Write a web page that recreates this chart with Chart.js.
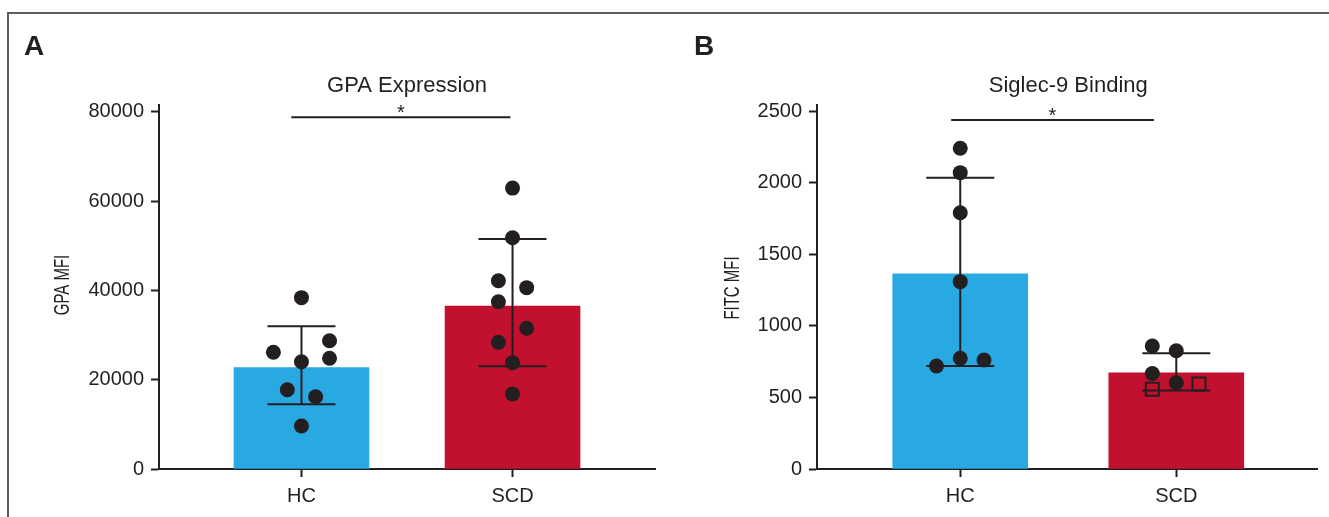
<!DOCTYPE html>
<html>
<head>
<meta charset="utf-8">
<script src="https://cdn.jsdelivr.net/npm/chart.js@4.4.1/dist/chart.umd.min.js"></script>
<style>
  html, body { margin: 0; padding: 0; background: #fff; }
  #wrap { position: relative; width: 1329px; height: 517px; overflow: hidden; }
  #frame { position: absolute; left: 7px; top: 12px; width: 1340px; height: 520px;
           border-top: 2px solid #5d5d5d; border-left: 2px solid #5d5d5d; }
  canvas { position: absolute; top: 0; }
  #chartA { left: 0; }
  #chartB { left: 665px; }
</style>
</head>
<body>
<div id="wrap">
  <div id="frame"></div>
  <canvas id="chartA" width="665" height="517"></canvas>
  <canvas id="chartB" width="664" height="517"></canvas>
</div>
<script>
const categories = ["HC", "SCD"];

// A - GPA Expression
const gpaTicks = [0, 20000, 40000, 60000, 80000];
const gpaMeans = [22690, 36500];
const gpaErrLow = [14490, 23000];
const gpaErrHigh = [31950, 51500];
const gpaHC = [38360, 26130, 28730, 24025, 24790, 17760, 16190, 9630];
const gpaHCJitter = [0, -0.133, 0.133, 0, 0.133, -0.067, 0.067, 0];
const gpaSCD = [62900, 51790, 42160, 40600, 37460, 31500, 28360, 23800, 16790];
const gpaSCDJitter = [0, 0, -0.067, 0.067, -0.067, 0.067, -0.067, 0, 0];
const gpaSigY = 78780;

// B - Siglec-9 Binding
const siglecTicks = [0, 500, 1000, 1500, 2000, 2500];
const siglecMeans = [1364, 673];
const siglecErrLow = [720, 548];
const siglecErrHigh = [2037, 809];
const siglecHC = [2243, 2072, 1792, 1310, 774, 762, 720];
const siglecHCJitter = [0, 0, 0, 0, 0, 0.11, -0.11];
const siglecSCDDots = [860, 827, 668, 603];
const siglecSCDDotsJitter = [-0.111, 0, -0.111, 0];
const siglecSCDSquares = [557, 594];
const siglecSCDSquaresJitter = [-0.111, 0.105];
const siglecSigY = 2440;

const ink = "#231f20";
const blue = "#29a9e1";
const red = "#c1112f";
const family = "'Liberation Sans', Arial, sans-serif";

Chart.defaults.font.family = family;
Chart.defaults.color = ink;

// x = numero del gruppo + jitter
function points(values, jitter, group) {
  return values.map((v, i) => ({ x: group + jitter[i], y: v }));
}

// barre di errore (media +/- SD) disegnate subito dopo le colonne
const errorBars = {
  id: "errorBars",
  afterDatasetDraw(chart, args, opts) {
    if (args.meta.type !== "bar") return;
    const { ctx } = chart;
    const x = chart.scales.x, y = chart.scales.y;
    ctx.save();
    ctx.strokeStyle = ink;
    ctx.lineWidth = 2;
    opts.low.forEach((lo, i) => {
      const px = x.getPixelForValue(i + 1);
      const top = y.getPixelForValue(opts.high[i]);
      const bot = y.getPixelForValue(lo);
      ctx.beginPath();
      ctx.moveTo(px, top); ctx.lineTo(px, bot);
      ctx.moveTo(px - opts.cap, top); ctx.lineTo(px + opts.cap, top);
      ctx.moveTo(px - opts.cap, bot); ctx.lineTo(px + opts.cap, bot);
      ctx.stroke();
    });
    ctx.restore();
  }
};

// lettera del pannello, titolo, linea di significativita, titolo asse y
const deco = {
  id: "deco",
  afterDraw(chart, args, o) {
    const { ctx } = chart;
    const x = chart.scales.x, y = chart.scales.y;
    ctx.save();
    ctx.fillStyle = ink;
    ctx.strokeStyle = ink;

    ctx.font = "bold 28px " + family;
    ctx.textAlign = "left";
    ctx.textBaseline = "alphabetic";
    ctx.fillText(o.letter, o.letterX, 55);

    ctx.font = "22px " + family;
    ctx.textAlign = "center";
    ctx.fillText(o.title, x.getPixelForValue(1.5), 91.5);

    const sy = y.getPixelForValue(o.sigY);
    const x1 = x.getPixelForValue(o.sigFrom);
    const x2 = x.getPixelForValue(o.sigTo);
    ctx.lineWidth = 2;
    ctx.beginPath();
    ctx.moveTo(x1, sy); ctx.lineTo(x2, sy);
    ctx.stroke();
    ctx.font = "20px " + family;
    ctx.fillText("*", (x1 + x2) / 2, sy + 2);

    ctx.translate(o.yTitleX, o.yTitleY);
    ctx.rotate(-Math.PI / 2);
    ctx.scale(0.68, 1);
    ctx.font = "22px " + family;
    ctx.textBaseline = "middle";
    ctx.fillText(o.yTitle, 0, 0);
    ctx.restore();
  }
};

function axisLook() {
  return {
    offset: false,
    grid: { offset: false, drawOnChartArea: false, tickLength: 8, tickWidth: 2, tickColor: ink },
    border: { display: true, color: ink, width: 2 }
  };
}

function makeChart(id, p) {
  return new Chart(document.getElementById(id), {
    type: "bar",
    data: {
      datasets: p.scatter.concat([{
        type: "bar",
        data: p.means.map((m, i) => ({ x: i + 1, y: m })),
        backgroundColor: [blue, red],
        barThickness: 135,
        order: 2
      }])
    },
    options: {
      responsive: false,
      devicePixelRatio: 1,
      animation: false,
      events: [],
      layout: { padding: { left: 0, top: 105, right: p.padRight, bottom: 8 } },
      plugins: {
        legend: { display: false },
        tooltip: { enabled: false },
        errorBars: { low: p.errLow, high: p.errHigh, cap: 34 },
        deco: p.deco
      },
      scales: {
        x: Object.assign({
          type: "linear",
          min: p.xMin,
          max: p.xMax,
          z: 1,
          afterBuildTicks: s => { s.ticks = categories.map((c, i) => ({ value: i + 1 })); },
          afterFit: s => { s.height = 40; },
          ticks: {
            callback: v => categories[v - 1],
            font: { size: 20 },
            color: ink,
            padding: 7,
            autoSkip: false,
            maxRotation: 0
          }
        }, axisLook()),
        y: Object.assign({
          type: "linear",
          min: 0,
          max: p.yMax,
          afterBuildTicks: s => { s.ticks = p.ticks.map(v => ({ value: v })); },
          afterFit: s => { s.width = p.yWidth; },
          ticks: { callback: v => String(v), font: { size: 20 }, color: ink, padding: 7 }
        }, axisLook())
      }
    },
    plugins: [errorBars, deco]
  });
}

const dot = { type: "scatter", pointRadius: 7.5, pointBackgroundColor: ink, pointBorderWidth: 0, order: 0 };

makeChart("chartA", {
  means: gpaMeans, errLow: gpaErrLow, errHigh: gpaErrHigh, ticks: gpaTicks,
  yMax: 81500, yWidth: 159, padRight: 10, xMin: 0.325, xMax: 2.675,
  scatter: [
    Object.assign({ data: points(gpaHC, gpaHCJitter, 1) }, dot),
    Object.assign({ data: points(gpaSCD, gpaSCDJitter, 2) }, dot)
  ],
  deco: {
    letter: "A", letterX: 24, title: "GPA Expression", yTitle: "GPA MFI",
    yTitleX: 63, yTitleY: 285, sigY: gpaSigY, sigFrom: 0.952, sigTo: 1.99
  }
});

makeChart("chartB", {
  means: siglecMeans, errLow: siglecErrLow, errHigh: siglecErrHigh, ticks: siglecTicks,
  yMax: 2545, yWidth: 152, padRight: 6, xMin: 0.337, xMax: 2.655,
  scatter: [
    Object.assign({ data: points(siglecHC, siglecHCJitter, 1) }, dot),
    Object.assign({ data: points(siglecSCDDots, siglecSCDDotsJitter, 2) }, dot),
    {
      type: "scatter",
      data: points(siglecSCDSquares, siglecSCDSquaresJitter, 2),
      pointStyle: "rect",
      pointRadius: 9.2,
      pointBackgroundColor: "rgba(0,0,0,0)",
      pointBorderColor: ink,
      pointBorderWidth: 2,
      order: 0
    }
  ],
  deco: {
    letter: "B", letterX: 29, title: "Siglec-9 Binding", yTitle: "FITC MFI",
    yTitleX: 67.5, yTitleY: 288, sigY: siglecSigY, sigFrom: 0.958, sigTo: 1.896
  }
});
</script>
</body>
</html>
